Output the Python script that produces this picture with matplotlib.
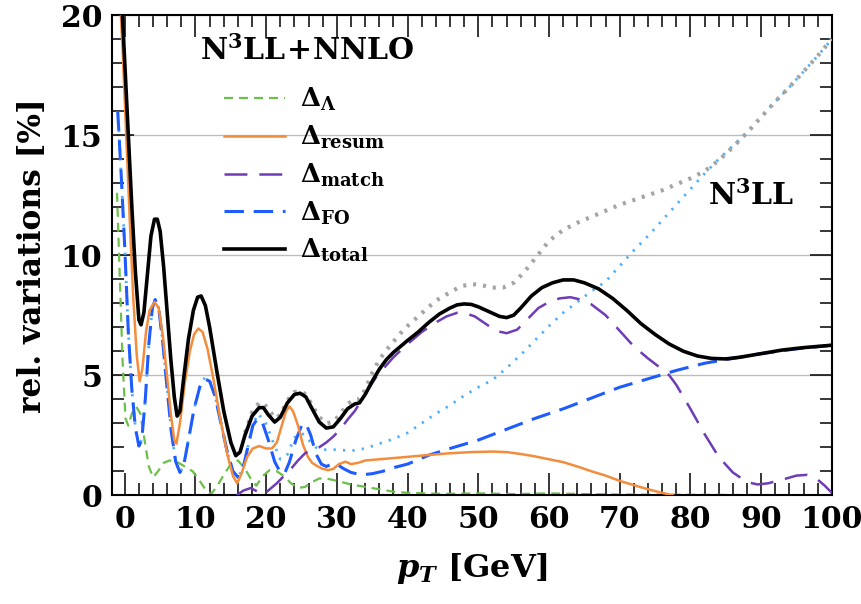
import matplotlib
matplotlib.use("Agg")
import matplotlib.pyplot as plt
from matplotlib.lines import Line2D
from matplotlib.ticker import MultipleLocator

plt.rcParams['mathtext.fontset'] = 'dejavuserif'
plt.rcParams['lines.scale_dashes'] = False
plt.rcParams['font.family'] = ['DejaVu Serif']
plt.rcParams['font.weight'] = 'bold'
plt.rcParams['axes.labelweight'] = 'bold'
plt.rcParams['axes.unicode_minus'] = False

# ---------------- data ----------------
total_x = [-0.6, 0, 0.5, 1.0, 1.5, 2.0, 2.3, 2.7, 3.2, 3.7, 4.2, 4.6, 5.0, 5.5, 6.0, 6.5, 7.0, 7.4, 7.8,
           8.3, 9.0, 9.7, 10.3, 10.8, 11.4, 12.0, 13.0, 14.0, 15.0, 15.7, 16.3, 17.0, 18.0, 19.0, 19.6,
           20.3, 21.2, 22.0, 23.0, 24.0, 24.8, 25.6, 26.5, 27.5, 28.5, 29.5, 30.5, 31.5, 32.5, 33.2, 34.0,
           35.0, 36.0, 37.0, 38.0, 39.0, 40.0, 41.5, 43.0, 44.5, 46.0, 47.0, 48.0, 49.0, 50.0, 51.5, 53.0,
           54.0, 55.0, 56.0, 57.5, 59.0, 60.5, 62.0, 63.5, 65.0, 67.0, 69.0, 71.0, 73.0, 75.0, 77.0, 79.0,
           81.0, 83.0, 85.0, 87.0, 90.0, 93.0, 96.0, 100.0]
total_y = [21.6, 18.0, 15.0, 12.0, 9.3, 7.3, 7.1, 7.6, 9.2, 10.8, 11.5, 11.5, 11.0, 9.5, 7.6, 5.7, 4.1, 3.3, 3.5,
           4.8, 6.5, 7.7, 8.25, 8.3, 7.9, 7.0, 5.2, 3.5, 2.2, 1.65, 1.8, 2.5, 3.3, 3.65, 3.65,
           3.35, 3.05, 3.25, 3.85, 4.2, 4.25, 4.1, 3.6, 3.05, 2.8, 2.85, 3.2, 3.6, 3.8, 3.85, 4.2,
           4.75, 5.25, 5.65, 5.95, 6.2, 6.45, 6.8, 7.2, 7.55, 7.8, 7.93, 7.97, 7.95, 7.85, 7.65, 7.45,
           7.4, 7.5, 7.8, 8.3, 8.65, 8.85, 8.97, 8.97, 8.85, 8.6, 8.2, 7.7, 7.15, 6.7, 6.3, 6.0,
           5.8, 5.7, 5.68, 5.75, 5.9, 6.05, 6.15, 6.25]

n3ll_x = [17.0, 18.0, 19.0, 19.6, 20.5, 21.3, 22.0, 23.0, 24.0, 24.8, 25.6, 26.5, 27.5, 28.5, 29.5, 30.5,
          31.5, 32.5, 33.2, 34.0, 35.0, 36.0, 37.0, 38.0, 39.0, 40.0, 41.5, 43.0, 44.5, 46.0, 47.5, 49.0,
          50.5, 52.0, 53.5, 55.0, 56.5, 58.0, 60.0, 62.0, 64.0, 66.0, 68.0, 70.0, 72.0, 74.0, 76.0, 78.0,
          80.0, 82.0, 84.0, 86.0, 88.0, 90.0, 92.0, 94.0, 96.0, 98.0, 100.0]
n3ll_y = [2.6, 3.45, 3.85, 3.85, 3.5, 3.2, 3.35, 3.95, 4.3, 4.35, 4.2, 3.75, 3.25, 3.0, 3.05, 3.4,
          3.8, 4.0, 4.0, 4.4, 5.1, 5.65, 6.05, 6.4, 6.75, 7.05, 7.45, 7.85, 8.2, 8.45, 8.7, 8.8,
          8.75, 8.65, 8.65, 8.85, 9.3, 9.85, 10.6, 11.05, 11.35, 11.6, 11.85, 12.1, 12.3, 12.5, 12.7, 12.95,
          13.2, 13.5, 13.95, 14.5, 15.1, 15.75, 16.4, 17.0, 17.65, 18.3, 19.0]

n3llfo_x = [-1.0, -0.5, 0.0, 0.5, 1.0, 1.5, 2.0, 2.4, 2.9, 3.4, 3.9, 4.3, 4.8, 5.4, 6.0, 6.6, 7.2, 7.8,
            8.3, 9.0, 9.8, 10.6, 11.3, 12.0, 12.8, 13.6, 14.5, 15.3, 16.0, 16.7, 17.4, 18.1, 18.8, 19.8,
            21.0, 22.0, 23.0, 24.0, 25.0, 26.0, 27.0, 28.0, 30.0, 32.0, 34.0, 36.0, 38.0, 40.0, 42.0, 44.0,
            46.0, 48.0, 50.0, 52.0, 54.0, 56.0, 58.0, 60.0, 62.0, 64.0, 66.0, 68.0, 70.0, 72.0, 74.0, 76.0,
            78.0, 80.0, 82.0, 84.0, 86.0, 88.0, 90.0, 92.0, 94.0, 96.0, 98.0, 100.0]
n3llfo_y = [16.0, 13.3, 10.3, 6.8, 4.4, 2.8, 2.05, 2.3, 4.0, 6.3, 7.8, 8.15, 7.8, 6.3, 4.4, 2.6, 1.4, 0.95,
            1.2, 2.3, 3.6, 4.5, 4.9, 4.8, 4.1, 3.0, 1.8, 1.0, 0.75, 1.1, 2.0, 2.9, 3.4, 3.1,
            2.2, 1.5, 1.7, 2.4, 2.6, 2.3, 2.0, 1.9, 1.9, 1.85, 1.95, 2.15, 2.35, 2.6, 3.0, 3.4,
            3.75, 4.15, 4.5, 4.8, 5.3, 5.85, 6.45, 7.05, 7.6, 8.05, 8.5, 8.9, 9.55, 10.2, 10.8, 11.45,
            12.1, 12.75, 13.4, 14.0, 14.55, 15.1, 15.75, 16.4, 17.0, 17.65, 18.3, 19.0]

resum_x = [-0.8, -0.3, 0.2, 0.7, 1.2, 1.7, 2.1, 2.5, 3.0, 3.5, 4.2, 4.8, 5.4, 6.0, 6.5, 7.0, 7.3, 7.8,
           8.5, 9.2, 9.8, 10.4, 11.0, 11.7, 12.5, 13.5, 14.5, 15.3, 15.9, 16.5, 17.3, 18.1, 19.0, 20.0,
           20.8, 21.5, 22.2, 22.8, 23.3, 23.8, 24.5, 25.2, 25.9, 26.5, 27.3, 28.0, 28.8, 29.5, 30.3, 31.2,
           32.0, 33.0, 34.0, 36.0, 38.0, 40.0, 43.0, 46.0, 49.0, 52.0, 54.0, 56.0, 58.0, 60.0, 62.0, 64.0,
           66.0, 68.0, 70.0, 72.0, 74.0, 76.0, 77.5]
resum_y = [21.5, 18.5, 15.0, 11.5, 8.2, 5.8, 4.75, 5.3, 6.8, 7.7, 8.05, 7.8, 6.6, 4.9, 3.4, 2.3, 2.15, 3.0,
           4.7, 6.0, 6.7, 6.95, 6.8, 6.1, 4.9, 3.2, 1.7, 0.8, 0.5, 0.9, 1.6, 1.95, 2.05, 1.95,
           1.95, 2.2, 2.9, 3.5, 3.7, 3.5, 2.9, 2.1, 1.6, 1.35, 1.2, 1.1, 1.05, 1.1, 1.3, 1.4,
           1.3, 1.35, 1.45, 1.5, 1.55, 1.6, 1.68, 1.75, 1.8, 1.82, 1.8, 1.72, 1.62, 1.5, 1.38, 1.2,
           1.0, 0.82, 0.6, 0.42, 0.25, 0.1, 0.0]

match_x = [15.8, 16.8, 17.8, 18.8, 19.5, 20.5, 21.5, 22.5, 23.5, 24.5, 25.5, 26.5, 27.5, 28.5, 29.5, 30.5,
           31.5, 32.5, 33.5, 34.5, 35.5, 36.5, 38.0, 40.0, 42.0, 44.0, 45.5, 47.0, 48.0, 49.5, 51.0, 52.5,
           54.0, 55.5, 57.0, 58.5, 60.0, 61.5, 63.0, 64.5, 66.0, 68.0, 70.0, 72.0, 74.0, 76.0, 77.0, 78.0,
           80.0, 82.0, 84.0, 86.0, 88.0, 89.5, 91.0, 93.0, 95.0, 96.5, 98.0, 99.0, 100.0]
match_y = [0.0, 0.2, 0.3, 0.15, 0.0, 0.25, 0.5, 0.8, 1.1, 1.45, 1.75, 1.9, 2.0, 2.2, 2.45, 2.75,
           3.15, 3.5, 3.95, 4.45, 4.9, 5.25, 5.75, 6.3, 6.8, 7.2, 7.45, 7.6, 7.6, 7.45, 7.15, 6.85,
           6.75, 6.9, 7.35, 7.8, 8.05, 8.2, 8.25, 8.15, 7.95, 7.5, 6.85, 6.2, 5.7, 5.25, 5.0, 4.6,
           3.6, 2.55, 1.6, 0.95, 0.55, 0.45, 0.5, 0.65, 0.82, 0.85, 0.65, 0.4, 0.1]

fo_x = [-1.0, -0.5, 0.0, 0.5, 1.0, 1.5, 2.0, 2.4, 2.9, 3.4, 3.9, 4.3, 4.8, 5.4, 6.0, 6.6, 7.2, 7.8,
        8.3, 9.0, 9.8, 10.6, 11.3, 12.0, 12.8, 13.6, 14.5, 15.3, 16.0, 16.7, 17.4, 18.1, 18.8, 19.5,
        20.3, 21.2, 22.0, 22.6, 23.3, 24.2, 25.0, 25.6, 26.3, 27.0, 27.8, 28.5, 29.3, 30.2, 31.0, 32.0,
        33.5, 35.0, 36.5, 38.0, 40.0, 43.0, 46.0, 50.0, 54.0, 58.0, 62.0, 66.0, 70.0, 74.0, 78.0, 82.0,
        86.0, 90.0, 95.0, 100.0]
fo_y = [16.0, 13.3, 10.3, 6.8, 4.4, 2.8, 2.05, 2.3, 4.0, 6.3, 7.8, 8.15, 7.8, 6.3, 4.4, 2.6, 1.4, 0.95,
        1.2, 2.3, 3.6, 4.5, 4.85, 4.75, 4.1, 3.0, 1.8, 1.0, 0.75, 1.1, 2.0, 2.9, 3.2, 3.0,
        2.3, 1.4, 0.95, 0.9, 1.4, 2.3, 2.9, 3.0, 2.5, 1.75, 1.3, 1.2, 1.3, 1.25, 1.1, 0.95,
        0.85, 0.9, 1.0, 1.15, 1.3, 1.67, 1.95, 2.3, 2.75, 3.2, 3.6, 4.05, 4.5, 4.85, 5.2, 5.5,
        5.7, 5.9, 6.1, 6.25]

lam_x = [-1.1, -0.7, -0.3, 0.1, 0.5, 1.0, 1.6, 2.2, 2.8, 3.4, 4.0, 4.7, 5.5, 6.3, 7.3, 8.5, 9.6, 10.6,
         11.5, 12.2, 13.0, 14.0, 15.0, 16.0, 17.0, 17.8, 18.6, 19.5, 20.5, 21.5, 22.5, 23.5, 24.5, 25.5,
         26.5, 27.5, 28.5, 30.0, 32.0, 34.0, 36.0, 38.0, 40.0, 45.0, 50.0, 55.0, 60.0, 65.0, 70.0, 80.0, 100.0]
lam_y = [12.6, 9.0, 5.5, 3.2, 2.9, 3.4, 3.7, 3.4, 2.3, 1.2, 0.75, 1.0, 1.35, 1.45, 1.4, 1.2, 1.0, 0.6,
         0.2, 0.05, 0.35, 0.85, 1.3, 1.45, 1.1, 0.7, 0.4, 0.8, 1.05, 1.0, 0.8, 0.5, 0.3, 0.35,
         0.55, 0.7, 0.7, 0.6, 0.45, 0.35, 0.25, 0.15, 0.1, 0.06, 0.08, 0.05, 0.08, 0.05, 0.03, 0.02, 0.0]

xticks = [0, 10, 20, 30, 40, 50, 60, 70, 80, 90, 100]
yticks = [0, 5, 10, 15, 20]

# ---------------- styles ----------------
c_lam = '#6cc04a'
c_res = '#f48c3c'
c_match = '#6e3cb6'
c_fo = '#1f5cff'
c_lb = '#4eaefc'
c_gray = '#a5a5a5'

fig = plt.figure(figsize=(8.62, 6.04), dpi=100)
ax = fig.add_axes([0.130, 0.180, 0.835, 0.795])

ax.plot(lam_x, lam_y, color=c_lam, lw=1.6, dashes=(6.5, 4.3), zorder=2)
ax.plot(n3llfo_x, n3llfo_y, color=c_lb, lw=2.0, dashes=(1.6, 5.2), zorder=3)
ax.plot(fo_x, fo_y, color=c_fo, lw=2.2, dashes=(14, 7), zorder=4)
ax.plot(resum_x, resum_y, color=c_res, lw=1.8, zorder=5)
ax.plot(match_x, match_y, color=c_match, lw=1.8, dashes=(16.5, 8.6), zorder=6)
ax.plot(n3ll_x, n3ll_y, color=c_gray, lw=3.0, dashes=(2.2, 5.0), zorder=7)
ax.plot(total_x, total_y, color='black', lw=2.6, zorder=8)

ax.set_xlim(-1.8, 100)
ax.set_ylim(0, 20)
ax.set_xticks(xticks)
ax.set_yticks(yticks)
ax.xaxis.set_minor_locator(MultipleLocator(2))
ax.yaxis.set_minor_locator(MultipleLocator(1))
ax.tick_params(which='both', direction='in', top=True, right=True, width=1.1, labelsize=21.5)
ax.tick_params(which='major', length=16, pad=7)
ax.tick_params(which='minor', length=8.5)
for s in ax.spines.values():
    s.set_linewidth(1.5)
ax.yaxis.grid(True, which='major', color='#bdbdbd', lw=1.0, zorder=0)
ax.set_axisbelow(True)

ax.set_ylabel('rel. variations [%]', fontsize=22.5, fontweight='bold', labelpad=9)
ax.set_xlabel(r'$\mathbfit{p_T}$ [GeV]', fontsize=23, fontweight='bold', labelpad=12)

ax.text(0.271, 0.925, r'$\mathbf{N^3LL\!+\!NNLO}$', transform=ax.transAxes,
        ha='center', va='center', fontsize=21.5)
ax.text(0.8875, 0.623, r'$\mathbf{N^3LL}$', transform=ax.transAxes,
        ha='center', va='center', fontsize=21.5)

handles = [
    Line2D([], [], color=c_lam, lw=1.6, dashes=(6.5, 4.3)),
    Line2D([], [], color=c_res, lw=1.8),
    Line2D([], [], color=c_match, lw=1.8, dashes=(16.5, 8.6)),
    Line2D([], [], color=c_fo, lw=2.2, dashes=(14, 7)),
    Line2D([], [], color='black', lw=2.6),
]
labels = [r'$\mathbf{Δ_{Λ}}$', r'$\mathbf{Δ_{resum}}$', r'$\mathbf{Δ_{match}}$',
          r'$\mathbf{Δ_{FO}}$', r'$\mathbf{Δ_{total}}$']
ax.legend(handles, labels, loc='upper left', bbox_to_anchor=(0.1556, 0.852), frameon=False,
          fontsize=18.5, handlelength=2.37, handletextpad=0.58, labelspacing=0.41,
          borderpad=0, borderaxespad=0)

fig.savefig('out.png', dpi=100)
